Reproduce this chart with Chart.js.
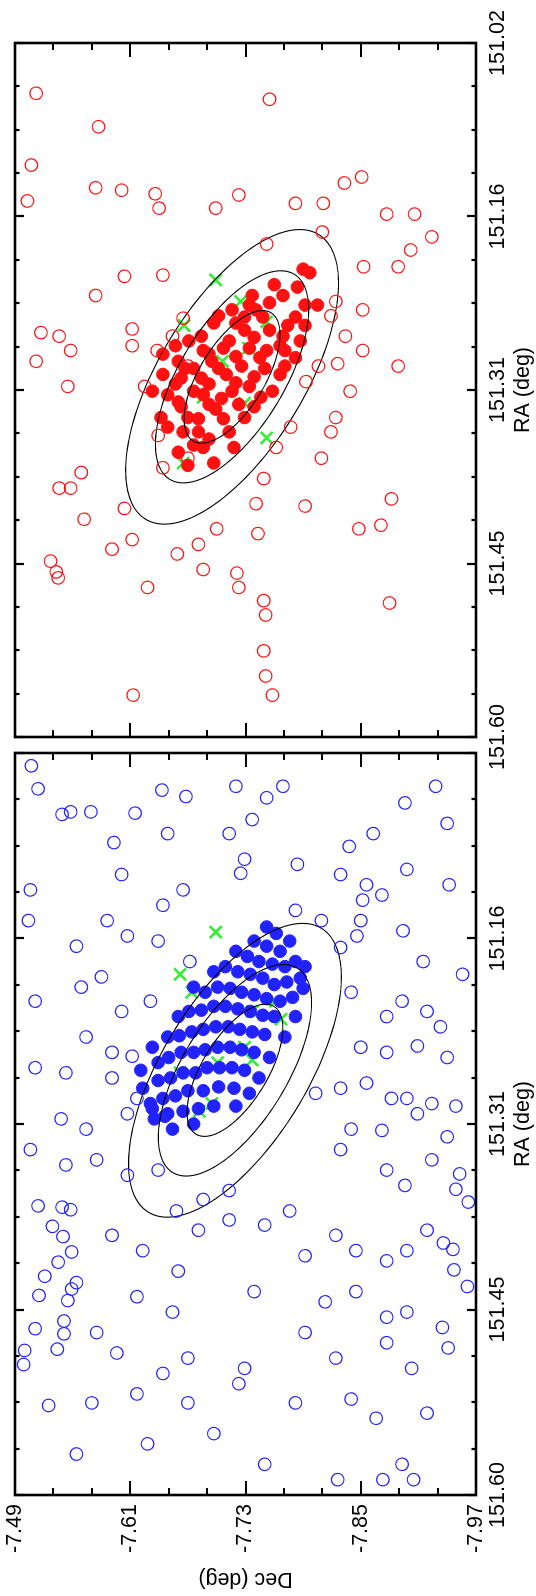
<!DOCTYPE html>
<html>
<head>
<meta charset="utf-8">
<title>RA / Dec</title>
<script src="https://cdn.jsdelivr.net/npm/chart.js@4.4.1/dist/chart.umd.min.js"></script>
<style>
  html, body { margin: 0; padding: 0; background: #fff; overflow: hidden; width: 536px; height: 1596px; }
  /* the figure is drawn landscape and turned a quarter turn to the left */
  #fig { position: absolute; left: 0; top: 0; width: 1596px; height: 536px;
         transform-origin: 0 0; transform: translateY(1596px) rotate(-90deg); }
  #fig canvas { position: absolute; left: 0; top: 0; }
</style>
</head>
<body>
<div id="fig">
  <canvas id="blue" width="1596" height="536"></canvas>
  <canvas id="red" width="1596" height="536"></canvas>
</div>
<script>
// axes
const raTicks = [151.02, 151.165, 151.31, 151.455, 151.60]
const raTickLabels = ['151.02', '151.16', '151.31', '151.45', '151.60']
const decTicks = [-7.49, -7.61, -7.73, -7.85, -7.97]
const decTickLabels = ['-7.49', '-7.61', '-7.73', '-7.85', '-7.97']

// [RA, Dec] pairs
const redOpen = [
  [151.062, -7.512], [151.090, -7.577], [151.122, -7.507], [151.152, -7.503], [151.141, -7.574],
  [151.143, -7.601], [151.146, -7.636], [151.158, -7.640], [151.158, -7.699], [151.147, -7.723],
  [151.067, -7.755], [151.154, -7.782], [151.154, -7.811], [151.137, -7.833], [151.132, -7.851],
  [151.163, -7.877], [151.163, -7.906], [151.182, -7.924], [151.193, -7.902], [151.207, -7.889],
  [151.207, -7.853], [151.178, -7.810], [151.243, -7.852], [151.236, -7.824], [151.248, -7.819],
  [151.188, -7.752], [151.214, -7.644], [151.231, -7.574], [151.215, -7.604], [151.265, -7.536],
  [151.286, -7.512], [151.262, -7.517], [151.277, -7.548], [151.307, -7.545], [151.273, -7.612],
  [151.259, -7.612], [151.277, -7.638], [151.307, -7.625], [151.265, -7.834], [151.277, -7.852],
  [151.288, -7.826], [151.290, -7.806], [151.303, -7.793], [151.311, -7.839], [151.333, -7.824],
  [151.345, -7.819], [151.367, -7.809], [151.341, -7.777], [151.358, -7.762], [151.384, -7.749],
  [151.405, -7.741], [151.430, -7.743], [151.426, -7.700], [151.439, -7.681], [151.460, -7.686],
  [151.348, -7.639], [151.375, -7.644], [151.367, -7.670], [151.435, -7.612], [151.443, -7.591],
  [151.379, -7.559], [151.392, -7.536], [151.392, -7.548], [151.418, -7.562], [151.409, -7.604],
  [151.453, -7.527], [151.462, -7.533], [151.467, -7.535], [151.475, -7.628], [151.447, -7.659],
  [151.486, -7.749], [151.498, -7.751], [151.463, -7.721], [151.475, -7.723], [151.528, -7.749],
  [151.549, -7.751], [151.565, -7.758], [151.565, -7.613], [151.426, -7.848], [151.423, -7.871],
  [151.401, -7.882], [151.488, -7.880], [151.250, -7.665], [151.265, -7.654], [151.290, -7.670],
  [151.290, -7.889], [151.407, -7.792]
]
const redFilled = [
  [151.209, -7.790], [151.222, -7.760], [151.239, -7.734], [151.248, -7.702], [151.254, -7.720],
  [151.249, -7.748], [151.256, -7.774], [151.277, -7.686], [151.269, -7.713], [151.266, -7.739],
  [151.273, -7.766], [151.292, -7.667], [151.286, -7.695], [151.282, -7.720], [151.283, -7.745],
  [151.290, -7.771], [151.305, -7.657], [151.300, -7.684], [151.297, -7.710], [151.299, -7.739],
  [151.320, -7.660], [151.314, -7.686], [151.311, -7.716], [151.316, -7.746], [151.333, -7.670],
  [151.326, -7.699], [151.333, -7.729], [151.345, -7.681], [151.345, -7.713], [151.358, -7.686],
  [151.212, -7.797], [151.224, -7.784], [151.231, -7.769], [151.237, -7.755], [151.239, -7.792],
  [151.249, -7.782], [151.243, -7.741], [151.249, -7.729], [151.243, -7.716], [151.254, -7.697],
  [151.265, -7.684], [151.269, -7.671], [151.273, -7.657], [151.280, -7.644], [151.260, -7.729],
  [151.260, -7.755], [151.269, -7.787], [151.265, -7.769], [151.275, -7.707], [151.280, -7.692],
  [151.275, -7.734], [151.277, -7.752], [151.283, -7.782], [151.286, -7.660], [151.292, -7.676],
  [151.292, -7.702], [151.290, -7.726], [151.292, -7.750], [151.297, -7.766], [151.297, -7.644],
  [151.300, -7.663], [151.305, -7.692], [151.304, -7.720], [151.307, -7.734], [151.311, -7.758],
  [151.314, -7.649], [151.311, -7.676], [151.317, -7.705], [151.322, -7.723], [151.324, -7.739],
  [151.324, -7.663], [151.322, -7.692], [151.334, -7.681], [151.334, -7.707], [151.341, -7.649],
  [151.345, -7.665], [151.351, -7.692], [151.356, -7.676], [151.362, -7.660], [151.373, -7.670],
  [151.371, -7.697], [151.358, -7.718], [151.333, -7.642], [151.311, -7.633], [151.277, -7.771],
  [151.256, -7.792], [151.239, -7.805], [151.231, -7.737]
]
const redCross = [
  [151.218, -7.699], [151.236, -7.725], [151.256, -7.666], [151.253, -7.752], [151.275, -7.733],
  [151.286, -7.706], [151.316, -7.686], [151.321, -7.729], [151.350, -7.752], [151.371, -7.665]
]
const blueOpen = [
  [151.030, -7.507], [151.048, -7.514], [151.068, -7.539], [151.066, -7.548], [151.066, -7.569],
  [151.067, -7.615], [151.374, -7.514], [151.375, -7.539], [151.377, -7.548], [151.390, -7.529],
  [151.398, -7.540], [151.410, -7.549], [151.418, -7.535], [151.429, -7.521], [151.434, -7.554],
  [151.439, -7.549], [151.444, -7.515], [151.448, -7.545], [151.464, -7.541], [151.470, -7.511],
  [151.474, -7.541], [151.487, -7.500], [151.486, -7.534], [151.498, -7.499], [151.530, -7.525],
  [151.371, -7.962], [151.403, -7.936], [151.408, -7.946], [151.424, -7.947], [151.437, -7.961],
  [151.469, -7.935], [151.485, -7.941], [151.349, -7.953], [151.361, -7.949], [151.588, -7.826],
  [151.588, -7.873], [151.588, -7.905],
  [151.049, -7.643], [151.054, -7.668], [151.046, -7.720], [151.055, -7.752], [151.046, -7.769],
  [151.059, -7.896], [151.046, -7.928], [151.090, -7.593], [151.083, -7.649], [151.083, -7.713],
  [151.072, -7.737], [151.093, -7.838], [151.083, -7.863], [151.075, -7.940], [151.127, -7.506],
  [151.115, -7.601], [151.139, -7.644], [151.127, -7.665], [151.114, -7.725], [151.103, -7.729],
  [151.107, -7.784], [151.115, -7.829], [151.135, -7.852], [151.123, -7.856], [151.131, -7.872],
  [151.111, -7.898], [151.123, -7.942], [151.151, -7.504], [151.171, -7.554], [151.151, -7.586],
  [151.163, -7.607], [151.167, -7.639], [151.183, -7.672], [151.143, -7.782], [151.151, -7.809],
  [151.172, -7.829], [151.163, -7.846], [151.151, -7.850], [151.159, -7.894], [151.183, -7.915],
  [151.193, -7.956], [151.214, -7.511], [151.203, -7.559], [151.195, -7.580], [151.222, -7.601],
  [151.214, -7.631], [151.207, -7.840], [151.226, -7.877], [151.214, -7.893], [151.222, -7.919],
  [151.234, -7.933], [151.258, -7.940], [151.242, -7.564], [151.254, -7.591], [151.257, -7.612],
  [151.250, -7.850], [151.254, -7.877], [151.249, -7.909], [151.266, -7.511], [151.270, -7.543],
  [151.274, -7.591], [151.290, -7.617], [151.286, -7.803], [151.282, -7.829], [151.278, -7.856],
  [151.290, -7.882], [151.290, -7.898], [151.294, -7.924], [151.296, -7.949], [151.306, -7.538],
  [151.314, -7.564], [151.302, -7.607], [151.314, -7.840], [151.315, -7.872], [151.302, -7.909],
  [151.320, -7.940], [151.330, -7.506], [151.342, -7.543], [151.338, -7.575], [151.350, -7.607],
  [151.346, -7.639], [151.378, -7.658], [151.369, -7.686], [151.362, -7.713], [151.330, -7.829],
  [151.346, -7.877], [151.358, -7.896], [151.338, -7.924], [151.378, -7.776], [151.397, -7.591],
  [151.409, -7.623], [151.425, -7.660], [151.393, -7.681], [151.385, -7.713], [151.389, -7.750],
  [151.413, -7.792], [151.397, -7.824], [151.409, -7.845], [151.417, -7.877], [151.409, -7.898],
  [151.393, -7.919], [151.445, -7.617], [151.457, -7.654], [151.441, -7.739], [151.449, -7.813],
  [151.441, -7.845], [151.461, -7.877], [151.457, -7.898], [151.473, -7.575], [151.489, -7.596],
  [151.505, -7.644], [151.493, -7.670], [151.501, -7.729], [151.473, -7.792], [151.493, -7.824],
  [151.481, -7.877], [151.501, -7.903], [151.536, -7.919], [151.528, -7.570], [151.521, -7.617],
  [151.528, -7.670], [151.513, -7.723], [151.528, -7.782], [151.525, -7.840], [151.540, -7.866],
  [151.568, -7.554], [151.560, -7.628], [151.552, -7.697], [151.576, -7.750], [151.576, -7.893]
]
const blueFilled = [
  [151.156, -7.752], [151.161, -7.762], [151.167, -7.776], [151.175, -7.766], [151.171, -7.752],
  [151.167, -7.739], [151.183, -7.782], [151.187, -7.771], [151.185, -7.758], [151.183, -7.744],
  [151.179, -7.732], [151.175, -7.720], [151.196, -7.787], [151.199, -7.773], [151.201, -7.760],
  [151.196, -7.748], [151.193, -7.735], [151.191, -7.722], [151.187, -7.709], [151.191, -7.697],
  [151.211, -7.779], [151.214, -7.766], [151.212, -7.752], [151.209, -7.739], [151.207, -7.726],
  [151.204, -7.714], [151.203, -7.701], [151.207, -7.688], [151.203, -7.676], [151.226, -7.760],
  [151.225, -7.748], [151.222, -7.735], [151.220, -7.722], [151.218, -7.709], [151.218, -7.697],
  [151.221, -7.684], [151.222, -7.671], [151.226, -7.660], [151.240, -7.750], [151.238, -7.737],
  [151.236, -7.724], [151.234, -7.712], [151.234, -7.699], [151.236, -7.686], [151.238, -7.674],
  [151.241, -7.661], [151.242, -7.649], [151.254, -7.739], [151.252, -7.726], [151.250, -7.714],
  [151.250, -7.701], [151.252, -7.688], [151.254, -7.676], [151.254, -7.663], [151.258, -7.650],
  [151.262, -7.639], [151.268, -7.729], [151.266, -7.716], [151.266, -7.703], [151.266, -7.690],
  [151.270, -7.678], [151.270, -7.665], [151.274, -7.652], [151.276, -7.639], [151.282, -7.718],
  [151.281, -7.702], [151.284, -7.686], [151.284, -7.670], [151.288, -7.657], [151.290, -7.644],
  [151.294, -7.631], [151.296, -7.697], [151.298, -7.681], [151.300, -7.665], [151.302, -7.649],
  [151.306, -7.635], [151.310, -7.676], [151.314, -7.654],
  [151.282, -7.623], [151.298, -7.633], [151.304, -7.646], [151.268, -7.621], [151.250, -7.633],
  [151.187, -7.792], [151.204, -7.790], [151.226, -7.782], [151.242, -7.771], [151.258, -7.755],
  [151.274, -7.744], [151.286, -7.734], [151.296, -7.720]
]
const blueCross = [
  [151.160, -7.699], [151.193, -7.662], [151.207, -7.674], [151.214, -7.761], [151.228, -7.767],
  [151.222, -7.737], [151.250, -7.729], [151.262, -7.701], [151.260, -7.737], [151.270, -7.662],
  [151.294, -7.695], [151.300, -7.682]
]

// contour ellipses per panel: centre, half major axis and half minor axis as [dRA, dDec]
const redEllipse = { centre: [151.299, -7.716], major: [-0.119, -0.090], minor: [0.0315, -0.0646] }
const blueEllipse = { centre: [151.268, -7.719], major: [-0.111, -0.090], minor: [0.0294, -0.0646] }
const ellipseLevels = [0.45, 0.72, 1.0]

const font = { family: "'Liberation Sans', Arial, sans-serif", size: 21.5 }
const FIG_W = 1596, FIG_H = 536

const toPts = (arr) => arr.map((p) => ({ x: p[0], y: p[1] }))

function minorValues(major, parts) {
  const out = []
  for (let i = 0; i < major.length - 1; i++) {
    for (let k = 1; k < parts; k++) {
      out.push(major[i] + ((major[i + 1] - major[i]) * k) / parts)
    }
  }
  return out
}

const frameTicks = {
  id: 'frameTicks',
  afterDatasetDraw(chart, args, opts) {
    if (args.index !== 1) return
    const { ctx, scales: { x, y } } = chart
    const e = opts.ellipse
    ctx.save()
    ctx.strokeStyle = '#000'
    ctx.lineWidth = 1.1
    ellipseLevels.forEach((s) => {
      ctx.beginPath()
      for (let i = 0; i <= 180; i++) {
        const t = (i / 180) * Math.PI * 2
        const ra = e.centre[0] + s * (e.major[0] * Math.cos(t) + e.minor[0] * Math.sin(t))
        const dec = e.centre[1] + s * (e.major[1] * Math.cos(t) + e.minor[1] * Math.sin(t))
        const px = x.getPixelForValue(ra), py = y.getPixelForValue(dec)
        if (i === 0) ctx.moveTo(px, py)
        else ctx.lineTo(px, py)
      }
      ctx.stroke()
    })
    ctx.restore()
  },
  afterDraw(chart) {
    const { ctx, chartArea: a, scales: { x, y } } = chart
    ctx.save()
    ctx.strokeStyle = '#000'
    ctx.lineWidth = 2.2
    const tick = (vals, len, horiz) => {
      vals.forEach((v) => {
        ctx.beginPath()
        if (horiz) {
          const px = Math.round(x.getPixelForValue(v))
          ctx.moveTo(px, a.bottom); ctx.lineTo(px, a.bottom - len)
          ctx.moveTo(px, a.top); ctx.lineTo(px, a.top + len)
        } else {
          const py = Math.round(y.getPixelForValue(v))
          ctx.moveTo(a.left, py); ctx.lineTo(a.left + len, py)
          ctx.moveTo(a.right, py); ctx.lineTo(a.right - len, py)
        }
        ctx.stroke()
      })
    }
    tick(raTicks, 9, true)
    tick(minorValues(raTicks, 4), 4.5, true)
    tick(decTicks, 14, false)
    tick(minorValues(decTicks, 3), 7, false)
    ctx.lineWidth = 2.6
    ctx.strokeRect(a.left, a.top, a.right - a.left, a.bottom - a.top)
    ctx.restore()
  }
}

function makePanel(id, open, filled, cross, ellipse, color, box, showDec, raLabels) {
  return new Chart(document.getElementById(id), {
    type: 'scatter',
    data: {
      datasets: [
        { data: toPts(open), pointStyle: 'circle', pointRadius: 6.3, borderWidth: 1.2,
          borderColor: color, backgroundColor: 'rgba(0,0,0,0)' },
        { data: toPts(filled), pointStyle: 'circle', pointRadius: 6.3, borderWidth: 1,
          borderColor: color, backgroundColor: color },
        { data: toPts(cross), pointStyle: 'crossRot', pointRadius: 8.5, borderWidth: 2.6,
          borderColor: '#33ee33' }
      ]
    },
    options: {
      responsive: false,
      animation: false,
      events: [],
      layout: { autoPadding: false, padding: { left: showDec ? 0 : box.left, right: FIG_W - box.right, top: box.top, bottom: 0 } },
      plugins: { legend: { display: false }, tooltip: { enabled: false }, frameTicks: { ellipse } },
      scales: {
        x: {
          type: 'linear', reverse: true, min: 151.02, max: 151.60,
          afterBuildTicks: (s) => { s.ticks = raTicks.map((v) => ({ value: v })) },
          afterFit: (s) => { s.height = FIG_H - box.bottom; s.paddingLeft = 0; s.paddingRight = 0 },
          ticks: { callback: (v, i) => raLabels[i], padding: 9, maxRotation: 0, minRotation: 0,
                   autoSkip: false, font, color: '#000' },
          grid: { display: false, drawTicks: false },
          border: { display: false },
          title: { display: true, text: 'RA (deg)', font, color: '#000', padding: { top: 0, bottom: 0 } }
        },
        y: {
          type: 'linear', min: -7.97, max: -7.49, display: showDec,
          afterBuildTicks: (s) => { s.ticks = decTicks.map((v) => ({ value: v })) },
          afterFit: (s) => { s.width = showDec ? box.left : 0; s.paddingTop = 0; s.paddingBottom = 0 },
          ticks: { callback: (v, i) => decTickLabels[i], padding: 9, autoSkip: false, font, color: '#000' },
          grid: { display: false, drawTicks: false },
          border: { display: false },
          title: { display: true, text: 'Dec (deg)', font, color: '#000', padding: { top: 4, bottom: 0 } }
        }
      }
    },
    plugins: [frameTicks]
  })
}

makePanel('blue', blueOpen, blueFilled, blueCross, blueEllipse, '#2222ff',
  { left: 101, right: 843, top: 15, bottom: 476 }, true, ['', '151.16', '151.31', '151.45', '151.60'])
makePanel('red', redOpen, redFilled, redCross, redEllipse, '#ff1111',
  { left: 859, right: 1553, top: 15, bottom: 476 }, false, raTickLabels)
</script>
</body>
</html>
